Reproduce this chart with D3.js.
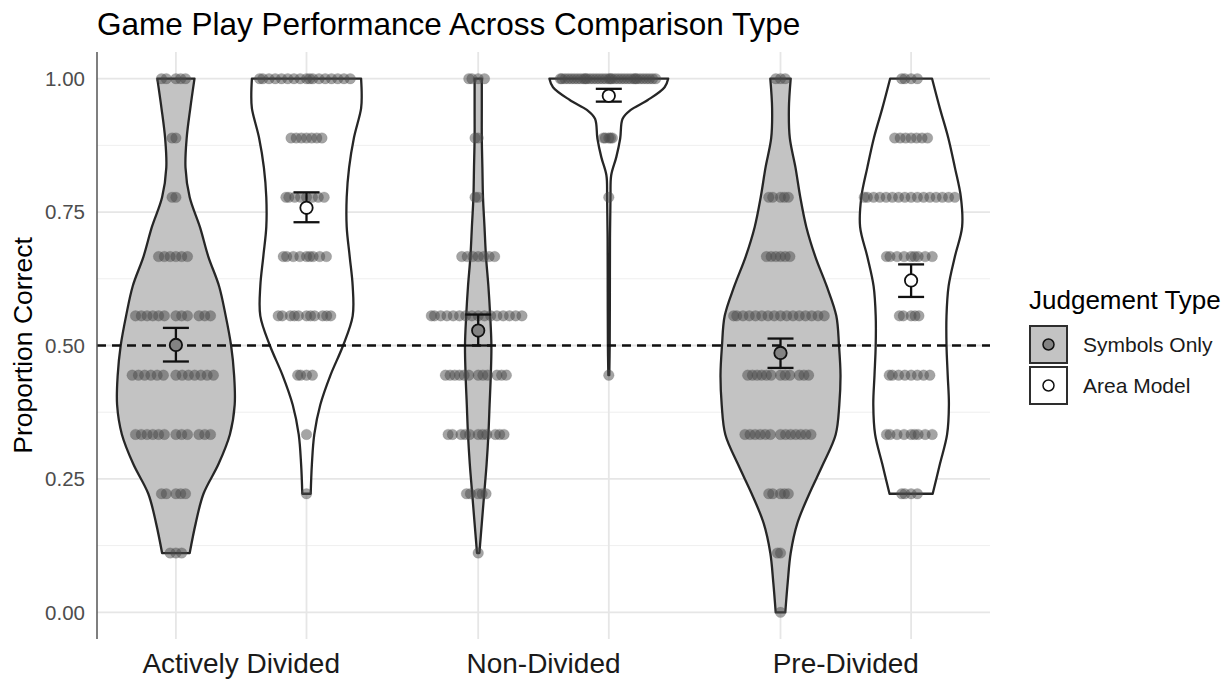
<!DOCTYPE html>
<html><head><meta charset="utf-8">
<script src="https://cdn.jsdelivr.net/npm/d3@7"></script>
<style>
body{margin:0;background:#fff;}
text{font-family:"Liberation Sans",Arial,Helvetica,sans-serif;}
</style>
</head><body>
<svg id="chart" width="1230" height="679"></svg>
<script>
// ---------------- data ----------------
const comparisonTypes = ["Actively Divided", "Non-Divided", "Pre-Divided"];
const judgementTypes = ["Symbols Only", "Area Model"];
const yTicks = [0, 0.25, 0.5, 0.75, 1];
const yTickLabels = ["0.00", "0.25", "0.50", "0.75", "1.00"];
const yMinorTicks = [0.125, 0.375, 0.625, 0.875];
const chanceLevel = 0.5;
// possible scores (proportion of 9 trials correct)
const scoreLevels = [0, 1/9, 2/9, 3/9, 4/9, 5/9, 6/9, 7/9, 8/9, 1];

// number of participants at each score level
const countsActivelySymbols = [0, 3, 5, 12, 13, 12, 6, 2, 2, 5];
const countsActivelyArea    = [0, 0, 1, 1, 4, 11, 9, 8, 7, 17];
const countsNonSymbols      = [0, 1, 5, 11, 12, 16, 7, 2, 2, 4];
const countsNonArea         = [0, 0, 0, 0, 1, 0, 0, 1, 5, 35];
const countsPreSymbols      = [1, 2, 5, 13, 12, 16, 6, 5, 0, 3];
const countsPreArea         = [0, 0, 4, 9, 8, 5, 9, 16, 7, 4];

// group means and standard-error limits (order: AD-S, AD-A, ND-S, ND-A, PD-S, PD-A)
const meanValues = [0.501, 0.758, 0.528, 0.968, 0.486, 0.622];
const seLower    = [0.470, 0.731, 0.500, 0.957, 0.458, 0.591];
const seUpper    = [0.533, 0.787, 0.558, 0.981, 0.513, 0.652];

// violin density profiles: [proportion correct, relative density]
const violinActivelySymbols = [[1/9,.23],[1/6,.33],[2/9,.46],[5/18,.71],[1/3,.90],[7/18,.98],[4/9,.97],[1/2,.92],[5/9,.83],[11/18,.72],[2/3,.54],[13/18,.40],[7/9,.23],[5/6,.16],[8/9,.18],[17/18,.24],[1,.31]];
const violinActivelyArea    = [[2/9,.07],[5/18,.09],[1/3,.13],[7/18,.23],[4/9,.40],[1/2,.61],[5/9,.77],[11/18,.77],[2/3,.72],[13/18,.67],[7/9,.67],[5/6,.71],[8/9,.79],[17/18,.91],[0.97,.92],[1,.91]];
const violinNonSymbols      = [[1/9,.02],[1/6,.06],[2/9,.10],[5/18,.14],[1/3,.17],[7/18,.19],[4/9,.21],[1/2,.22],[5/9,.20],[11/18,.17],[2/3,.13],[13/18,.105],[7/9,.08],[5/6,.07],[8/9,.06],[17/18,.06],[1,.06]];
const violinNonArea         = [[4/9,.008],[1/2,.015],[0.6,.018],[0.7,.02],[7/9,.028],[0.819,.04],[0.853,.125],[0.888,.19],[0.925,.23],[0.941,.36],[0.96,.65],[0.984,.93],[1,.99]];
const violinPreSymbols      = [[0,.08],[1/18,.12],[1/9,.17],[1/6,.28],[2/9,.48],[5/18,.71],[1/3,.92],[7/18,.98],[4/9,1.0],[1/2,.975],[5/9,.93],[11/18,.77],[2/3,.58],[13/18,.43],[7/9,.33],[5/6,.25],[8/9,.155],[17/18,.14],[1,.17]];
const violinPreArea         = [[2/9,.36],[5/18,.48],[1/3,.60],[7/18,.63],[4/9,.61],[1/2,.59],[5/9,.59],[11/18,.625],[2/3,.73],[13/18,.85],[7/9,.83],[5/6,.73],[8/9,.62],[17/18,.48],[1,.35]];

// assemble groups
const groupCounts  = [countsActivelySymbols, countsActivelyArea, countsNonSymbols, countsNonArea, countsPreSymbols, countsPreArea];
const groupViolins = [violinActivelySymbols, violinActivelyArea, violinNonSymbols, violinNonArea, violinPreSymbols, violinPreArea];
const groups = [];
comparisonTypes.forEach((c, ci) => judgementTypes.forEach((j, ji) => {
  const gi = ci * 2 + ji;
  groups.push({comparison: c, judgement: j, counts: groupCounts[gi], violin: groupViolins[gi],
               mean: meanValues[gi], lo: seLower[gi], hi: seUpper[gi]});
}));

// ---------------- layout ----------------
const svg = d3.select("#chart");
const panel = {left: 97, right: 990, top: 52, bottom: 639};

const x = d3.scalePoint().domain(comparisonTypes).range([panel.left, panel.right]).padding(0.477);
const dodge = d3.scalePoint().domain(judgementTypes).range([-65.3, 65.3]);
const y = d3.scaleLinear().domain([-0.05, 1.05]).range([panel.bottom, panel.top]);
const halfWidth = d3.scaleLinear().domain([0, 1]).range([0, 60]);
const maxSpread = 50;

const fillFor = d3.scaleOrdinal().domain(judgementTypes).range(["#c3c3c3", "#ffffff"]);
const meanFill = d3.scaleOrdinal().domain(judgementTypes).range(["#838383", "#ffffff"]);

const cx = g => x(g.comparison) + dodge(g.judgement);

// grid
const grid = svg.append("g");
grid.selectAll(".minor").data(yMinorTicks).join("line")
  .attr("x1", panel.left).attr("x2", panel.right)
  .attr("y1", d => y(d)).attr("y2", d => y(d))
  .attr("stroke", "#efefef").attr("stroke-width", 1);
grid.selectAll(".major").data(yTicks).join("line")
  .attr("x1", panel.left).attr("x2", panel.right)
  .attr("y1", d => y(d)).attr("y2", d => y(d))
  .attr("stroke", "#e6e6e6").attr("stroke-width", 1.8);
grid.selectAll(".vert").data(groups).join("line")
  .attr("x1", d => cx(d)).attr("x2", d => cx(d))
  .attr("y1", panel.top).attr("y2", panel.bottom)
  .attr("stroke", "#e6e6e6").attr("stroke-width", 1.8);

// violins
svg.append("g").selectAll("path").data(groups).join("path")
  .attr("d", g => d3.area()
      .curve(d3.curveCatmullRom.alpha(0.5))
      .y(d => y(d[0]))
      .x0(d => cx(g) - halfWidth(d[1]))
      .x1(d => cx(g) + halfWidth(d[1]))(g.violin))
  .attr("fill", g => fillFor(g.judgement))
  .attr("stroke", "#262626").attr("stroke-width", 2.3).attr("stroke-linejoin", "round");

// quasirandom (van der Corput) dots
function vdc(n) { let v = 0, denom = 1; while (n > 0) { denom *= 2; v += (n % 2) / denom; n = Math.floor(n / 2); } return v; }
const dots = [];
groups.forEach(g => {
  const maxCount = d3.max(g.counts);
  g.counts.forEach((n, k) => {
    const spread = maxSpread * n / maxCount;
    for (let i = 0; i < n; i++) {
      dots.push({x: cx(g) + (vdc(i + 1) - 0.5) * 2 * spread, v: scoreLevels[k]});
    }
  });
});
svg.append("g").selectAll("circle").data(dots).join("circle")
  .attr("cx", d => d.x).attr("cy", d => y(d.v)).attr("r", 5.3)
  .attr("fill", "#4a4a4a").attr("fill-opacity", 0.5)
  .attr("stroke", "#4a4a4a").attr("stroke-opacity", 0.2).attr("stroke-width", 0.8);

// chance line
svg.append("line")
  .attr("x1", panel.left).attr("x2", panel.right)
  .attr("y1", y(chanceLevel)).attr("y2", y(chanceLevel))
  .attr("stroke", "#111").attr("stroke-width", 2.3).attr("stroke-dasharray", "9,6");

// error bars
const eb = svg.append("g").attr("stroke", "#111").attr("stroke-width", 2.3);
eb.selectAll(".v").data(groups).join("line")
  .attr("x1", g => cx(g)).attr("x2", g => cx(g)).attr("y1", g => y(g.lo)).attr("y2", g => y(g.hi));
eb.selectAll(".t").data(groups).join("line")
  .attr("x1", g => cx(g) - 13).attr("x2", g => cx(g) + 13).attr("y1", g => y(g.hi)).attr("y2", g => y(g.hi));
eb.selectAll(".b").data(groups).join("line")
  .attr("x1", g => cx(g) - 13).attr("x2", g => cx(g) + 13).attr("y1", g => y(g.lo)).attr("y2", g => y(g.lo));

// mean points
svg.append("g").selectAll("circle").data(groups).join("circle")
  .attr("cx", g => cx(g)).attr("cy", g => y(g.mean)).attr("r", 6.2)
  .attr("fill", g => meanFill(g.judgement)).attr("stroke", "#111").attr("stroke-width", 1.8);

// axis line
svg.append("line").attr("x1", panel.left).attr("x2", panel.left)
  .attr("y1", panel.top).attr("y2", panel.bottom)
  .attr("stroke", "#555").attr("stroke-width", 1.5);

// y tick labels
svg.append("g").selectAll("text").data(yTicks).join("text")
  .attr("x", 85).attr("y", d => y(d)).attr("dy", "0.36em")
  .attr("text-anchor", "end").attr("font-size", 20.5).attr("fill", "#4d4d4d")
  .text((d, i) => yTickLabels[i]);

// x labels
svg.append("g").selectAll("text").data(comparisonTypes).join("text")
  .attr("x", d => x(d)).attr("y", 673)
  .attr("text-anchor", "middle").attr("font-size", 28).attr("fill", "#1a1a1a")
  .text(d => d);

// y title
svg.append("text").attr("transform", `translate(32,${(panel.top + panel.bottom) / 2}) rotate(-90)`)
  .attr("text-anchor", "middle").attr("font-size", 26.5).attr("fill", "#000")
  .text("Proportion Correct");

// title
svg.append("text").attr("x", 97).attr("y", 35).attr("font-size", 31.5).attr("fill", "#000")
  .text("Game Play Performance Across Comparison Type");

// legend
const lg = svg.append("g").attr("transform", "translate(1029,0)");
lg.append("text").attr("x", 0).attr("y", 309).attr("font-size", 26).attr("fill", "#000").text("Judgement Type");
const keys = lg.selectAll(".key").data(judgementTypes).join("g")
  .attr("transform", (d, i) => `translate(0,${325 + i * 41})`);
keys.append("rect").attr("x", 1).attr("y", 1).attr("width", 37).attr("height", 37)
  .attr("fill", d => fillFor(d)).attr("stroke", "#2e2e2e").attr("stroke-width", 2);
keys.append("circle").attr("cx", 19.5).attr("cy", 19.5).attr("r", 5.5)
  .attr("fill", d => meanFill(d)).attr("stroke", "#111").attr("stroke-width", 1.5);
keys.append("text").attr("x", 54).attr("y", 19.5).attr("dy", "0.36em")
  .attr("font-size", 21).attr("fill", "#1a1a1a").text(d => d);
</script>
</body></html>
